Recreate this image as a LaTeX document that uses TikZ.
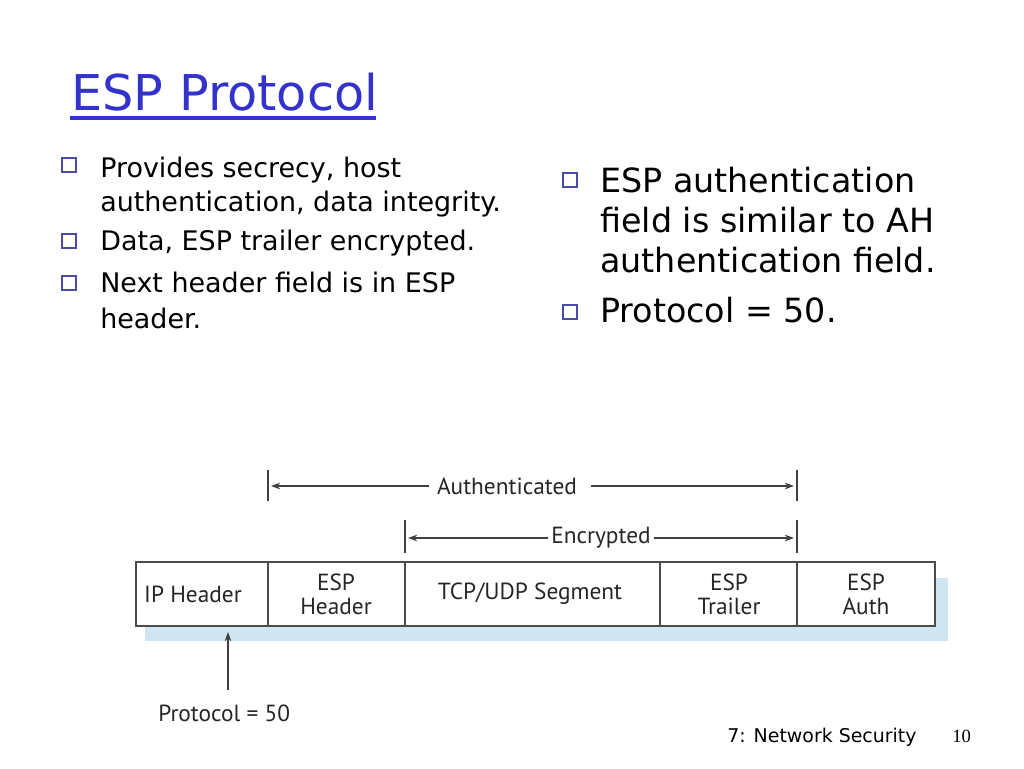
\documentclass[tikz,border=0pt]{standalone}
\usepackage{fontspec}
\setmainfont{DejaVu Sans}
\newfontfamily\diagfont{PT Sans}
\newfontfamily\serifnum{Liberation Serif}
\usetikzlibrary{arrows.meta}
\definecolor{titleblue}{HTML}{3333CC}
\definecolor{bulletblue}{HTML}{4A4AA8}
\definecolor{shadowblue}{HTML}{CFE6F2}
\tikzset{
  bul/.style={draw=bulletblue,line width=1.7pt,minimum size=10.5pt,inner sep=0pt},
  txtS/.style={anchor=base west,inner sep=0pt,font=\fontsize{20.2}{24}\selectfont},
  txtL/.style={anchor=base west,inner sep=0pt,font=\fontsize{25}{30}\selectfont},
  fld/.style={font=\diagfont\fontsize{17.5}{18}\selectfont,align=center,inner sep=0pt,text=black!85},
  vbar/.style={line width=0.9pt,black!75},
  arr/.style={line width=0.9pt,black!75,-{Stealth[length=7pt,width=5pt]}},
}
\begin{document}
\begin{tikzpicture}[x=0.75pt,y=-0.75pt]
\useasboundingbox (0,0) rectangle (1024,768);
% title
\node[anchor=base west,inner sep=0pt,text=titleblue,font=\fontsize{37}{42}\selectfont] (title) at (71,110) {ESP Protocol};
\draw[titleblue,line width=2.4pt] (70,118) -- (376,118);
% left bullets
\node[bul] (b1) at (69,165) {};
\node[txtS] (t1a) at (100,177) {Provides secrecy, host};
\node[txtS] (t1b) at (100,211) {authentication, data integrity.};
\node[bul] (b2) at (69,241) {};
\node[txtS] (t2) at (100,250) {Data, ESP trailer encrypted.};
\node[bul] (b3) at (69,283) {};
\node[txtS] (t3a) at (100,292) {Next header field is in ESP};
\node[txtS] (t3b) at (100,328) {header.};
% right bullets
\node[bul] (b4) at (570,180) {};
\node[txtL] (t4a) at (600,192) {ESP authentication};
\node[txtL] (t4b) at (600,232) {field is similar to AH};
\node[txtL] (t4c) at (600,272) {authentication field.};
\node[bul] (b5) at (570,312) {};
\node[txtL] (t5) at (600,322) {Protocol = 50.};
% diagram shadow
\fill[shadowblue] (145,578) rectangle (948,641);
\fill[white] (136,562) rectangle (935,626);
% boxes
\draw[line width=0.9pt,black!70] (136,562) rectangle (935,626);
\foreach \xx in {268,405,660,797} \draw[line width=0.9pt,black!70] (\xx,562) -- (\xx,626);
\node[fld] (ip) at (193,594) {IP Header};
\node[fld] (esph) at (336,594) {ESP\\Header};
\node[fld] (seg) at (530,594) {TCP/UDP Segment};
\node[fld] (espt) at (729,594) {ESP\\Trailer};
\node[fld] (espa) at (866,594) {ESP\\Auth};
% authenticated
\coordinate (a1t) at (268,470); \coordinate (a1b) at (268,501);
\coordinate (a2t) at (797,470); \coordinate (a2b) at (797,501);
\draw[vbar] (a1t) -- (a1b);
\draw[vbar] (a2t) -- (a2b);
\node[fld] (auth) at (507,486) {Authenticated};
\coordinate (al) at (271,486); \coordinate (ar) at (794,486);
\draw[arr] (auth.west) ++(-8,0) -- (al);
\draw[arr] (auth.east) ++(14,0) -- (ar);
% encrypted
\coordinate (e1t) at (405,520); \coordinate (e1b) at (405,553);
\coordinate (e2t) at (797,520); \coordinate (e2b) at (797,553);
\draw[vbar] (e1t) -- (e1b);
\draw[vbar] (e2t) -- (e2b);
\node[fld] (enc) at (601,538) {Encrypted};
\coordinate (el) at (408,538); \coordinate (er) at (794,538);
\draw[arr] (enc.west) ++(-3,0) -- (el);
\draw[arr] (enc.east) ++(3,0) -- (er);
% protocol arrow
\node[fld,anchor=base west] (proto) at (158,721) {Protocol = 50};
\coordinate (pt) at (228,632);
\draw[arr] (228,690) -- (pt);
% footer
\node[anchor=base west,inner sep=0pt,font=\fontsize{14.2}{16}\selectfont] (foot) at (727,742) {7: Network Security};
\node[anchor=base west,inner sep=0pt,font=\serifnum\fontsize{14}{16}\selectfont] (pg) at (952,742) {10};
\end{tikzpicture}
\end{document}
